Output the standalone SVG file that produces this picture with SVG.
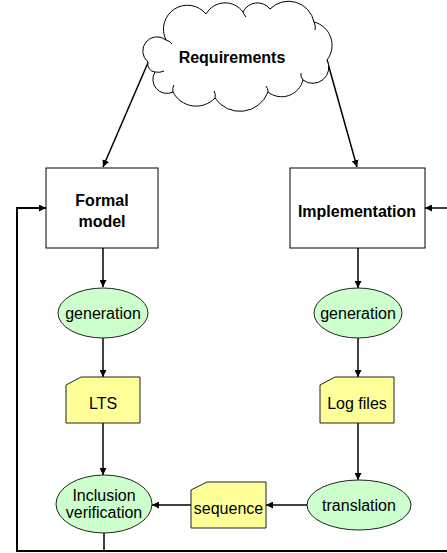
<svg xmlns="http://www.w3.org/2000/svg" width="447" height="553" viewBox="0 0 447 553">
<defs>
<marker id="ah" viewBox="0 0 10 10" refX="10" refY="5" markerWidth="7" markerHeight="7" markerUnits="userSpaceOnUse" orient="auto">
<path d="M0,0 L10,5 L0,10 z" fill="#000"/>
</marker>
</defs>
<style>
.box{fill:#fff;stroke:#000;stroke-width:1}
.ell{fill:#ccffcc;stroke:#222;stroke-width:1}
.doc{fill:#ffff99;stroke:#222;stroke-width:1}
.cloud{fill:#fff;stroke:#000;stroke-width:1}
.curl{fill:none;stroke:#000;stroke-width:1}
.bt{font-family:"Liberation Sans",Arial,sans-serif;font-weight:bold;font-size:16px;fill:#000;text-anchor:middle}
.t{font-family:"Liberation Sans",Arial,sans-serif;font-size:16px;fill:#000;text-anchor:middle}
.c{fill:none;stroke:#000;stroke-width:1.5}
</style>
<rect width="447" height="553" fill="#fff"/>
<g id="connectors">
<line class="c" x1="150" y1="58" x2="103" y2="167" marker-end="url(#ah)"/>
<line class="c" x1="327" y1="60" x2="357" y2="167" marker-end="url(#ah)"/>
<line class="c" x1="103" y1="248" x2="103" y2="287" marker-end="url(#ah)"/>
<line class="c" x1="103" y1="338" x2="103" y2="377" marker-end="url(#ah)"/>
<line class="c" x1="103" y1="423" x2="103" y2="475" marker-end="url(#ah)"/>
<line class="c" x1="358" y1="248" x2="358" y2="288" marker-end="url(#ah)"/>
<line class="c" x1="358" y1="338" x2="358" y2="377" marker-end="url(#ah)"/>
<line class="c" x1="358" y1="423" x2="358" y2="480" marker-end="url(#ah)"/>
<line class="c" x1="307" y1="505" x2="266" y2="505" marker-end="url(#ah)"/>
<line class="c" x1="191" y1="505" x2="152" y2="505" marker-end="url(#ah)"/>
<polyline class="c" points="104,533 104,551"/>
<polyline class="c" points="447,551 17,551 17,208 46,208" marker-end="url(#ah)" style="stroke-width:2"/>
<line class="c" x1="447" y1="208" x2="425" y2="208" marker-end="url(#ah)"/>
</g>
<g id="requirements">
<path class="cloud" d="M148,62 A13,13 0 0 1 166,40 A24,24 0 0 1 206,14 A22,22 0 0 1 243,12 A16,16 0 0 1 270,9 A26,26 0 0 1 314,22 A24,24 0 0 1 327,60 A16,16 0 0 1 303,80 A22,22 0 0 1 268,92 A30,30 0 0 1 215,98 A26,26 0 0 1 173,92 A14,14 0 0 1 155,72 A8,8 0 0 1 148,62 Z"/>
<path class="curl" d="M166,40 Q170,41 172,44 M155,72 Q160,73 164,71 M173,92 Q172,88 174,85 M215,98 Q216,94 214,91 M268,92 Q268,88 266,86 M303,80 Q300,76 301,73 M314,22 Q316,26 315,30 M243,12 Q244,15 246,17"/>
<text class="bt" x="232" y="63">Requirements</text>
</g>
<g id="formal-model">
<rect class="box" x="46" y="168" width="112" height="80"/>
<text class="bt" x="102" y="206">Formal</text>
<text class="bt" x="102" y="227">model</text>
</g>
<g id="implementation">
<rect class="box" x="290" y="168" width="135" height="80"/>
<text class="bt" x="357" y="217">Implementation</text>
</g>
<g id="generation-left">
<ellipse class="ell" cx="103" cy="313" rx="45" ry="25"/>
<text class="t" x="103" y="318.5">generation</text>
</g>
<g id="generation-right">
<ellipse class="ell" cx="358" cy="313" rx="44" ry="25"/>
<text class="t" x="358" y="318.5">generation</text>
</g>
<g id="lts">
<path class="doc" d="M66,385 L81,377 L140,377 L140,423 L66,423 Z"/>
<text class="t" x="103" y="409">LTS</text>
</g>
<g id="log-files">
<path class="doc" d="M320,385 L335,377 L394,377 L394,423 L320,423 Z"/>
<text class="t" x="357" y="409">Log files</text>
</g>
<g id="inclusion-verification">
<ellipse class="ell" cx="104" cy="504" rx="48" ry="29"/>
<text class="t" x="104" y="501">Inclusion</text>
<text class="t" x="104" y="518">verification</text>
</g>
<g id="sequence">
<path class="doc" d="M191,490 L207,482 L266,482 L266,528 L191,528 Z"/>
<text class="t" x="228.5" y="514">sequence</text>
</g>
<g id="translation">
<ellipse class="ell" cx="359" cy="505" rx="52" ry="25"/>
<text class="t" x="359" y="511">translation</text>
</g>
</svg>
